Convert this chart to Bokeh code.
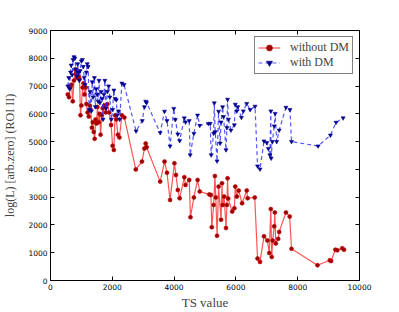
from bokeh.plotting import figure
from bokeh.models import LinearAxis, FixedTicker, Range1d
from bokeh.embed import file_html
from bokeh.resources import INLINE

# without DM (TS value, log L)
ts_without = [560, 600, 640, 680, 720, 760, 800, 830, 860, 880, 910, 940, 970, 1000, 1040, 1070,
              1100, 1140, 1160, 1200, 1240, 1270, 1300, 1340, 1370, 1400, 1430, 1460, 1490, 1520,
              1560, 1590, 1620, 1660, 1690, 1740, 1790, 1840, 1900, 1960, 2010, 2050, 2090, 2130,
              2180, 2230, 2310, 2390, 2760, 2960, 3040, 3080, 3110, 3550, 3690, 3770, 3870, 4010,
              4060, 4120, 4180, 4330, 4370, 4490, 4530, 4640, 4760, 4830, 5140, 5190, 5220, 5280,
              5320, 5350, 5390, 5440, 5520, 5550, 5570, 5620, 5680, 5710, 5730, 5750, 5880, 5950,
              5980, 6030, 6090, 6200, 6350, 6380, 6610, 6700, 6780, 6910, 7020, 7080, 7130, 7160,
              7190, 7240, 7260, 7290, 7370, 7400, 7620, 7740, 7800, 8640, 9040, 9080, 9220, 9280,
              9440, 9500]
logl_without = [6700, 6600, 6950, 7050, 6450, 7200, 7600, 7450, 7300, 7500, 7350, 7250, 5950, 6300,
                6950, 7100, 6700, 6950, 6350, 6050, 5900, 6300, 6150, 5500, 5700, 5350, 5100, 5800,
                5650, 6250, 5700, 6000, 5250, 5950, 6200, 6300, 6050, 6350, 6050, 5600, 4850, 4700,
                5950, 5800, 5250, 5150, 5950, 5870, 4000, 4280, 4750, 4930, 4800, 3560, 4280, 3880,
                2900, 4220, 3800, 3260, 2960, 3720, 3440, 3620, 2280, 2990, 3620, 3200, 3100, 3080,
                1920, 2720, 3760, 2990, 1610, 3380, 2190, 3500, 2720, 3020, 1890, 2720, 3680, 2950,
                2480, 2600, 3380, 3020, 3240, 2780, 3240, 2960, 2990, 790, 670, 1590, 1440, 990,
                2570, 850, 1440, 1950, 2450, 1330, 1500, 1750, 2450, 2300, 1140, 550, 730, 700,
                1110, 1090, 1160, 1110]

# with DM (TS value, log L)
ts_with = [560, 590, 620, 650, 670, 700, 730, 760, 790, 820, 850, 880, 900, 930, 960, 1000, 1030,
           1060, 1090, 1120, 1160, 1190, 1220, 1250, 1280, 1320, 1350, 1380, 1420, 1450, 1480, 1510,
           1540, 1570, 1600, 1640, 1670, 1700, 1730, 1760, 1800, 1840, 1880, 1920, 1970, 2010, 2050,
           2090, 2130, 2160, 2200, 2240, 2310, 2380, 2770, 2970, 3040, 3080, 3110, 3550, 3690, 3770,
           3870, 3990, 4040, 4120, 4180, 4330, 4370, 4490, 4520, 4640, 4760, 4830, 5110, 5170, 5200,
           5280, 5300, 5330, 5390, 5440, 5490, 5520, 5570, 5600, 5680, 5710, 5730, 5760, 5840, 5950,
           5980, 6030, 6060, 6180, 6240, 6350, 6460, 6620, 6700, 6780, 6910, 7000, 7050, 7100, 7130,
           7140, 7180, 7240, 7270, 7320, 7400, 7620, 7750, 7800, 8660, 9060, 9240, 9470]
logl_with = [7000, 7300, 6900, 7500, 7750, 7400, 7950, 8050, 8000, 7600, 7350, 7800, 7500, 7200,
             7550, 7900, 7950, 7700, 7300, 7050, 7500, 7800, 7700, 6150, 6800, 6100, 7150, 6600,
             7300, 6250, 6900, 6700, 6450, 7200, 6400, 6800, 6550, 5800, 6700, 7200, 6200, 6800,
             7000, 6600, 5800, 6150, 6850, 6550, 6500, 5950, 6100, 5800, 7100, 7050, 5380, 5750,
             6250, 6450, 6400, 5320, 6090, 5750, 4840, 6190, 5790, 5270, 5030, 5850, 5700, 5750,
             4520, 5290, 5950, 5580, 5650, 5650, 4520, 5300, 6390, 5350, 4300, 6090, 4940, 5700,
             6250, 5900, 4700, 5500, 6520, 5800, 5410, 5600, 6340, 6100, 6250, 5870, 6100, 6370,
             6150, 6270, 4120, 4010, 5020, 4960, 4750, 4520, 6100, 4400, 5000, 5560, 6010, 5000,
             5410, 6230, 6150, 5000, 4840, 5230, 5690, 5850]

x_ticks = [0, 2000, 4000, 6000, 8000, 10000]
y_ticks = [0, 1000, 2000, 3000, 4000, 5000, 6000, 7000, 8000, 9000]

SERIF = "Liberation Serif"
SANS = "DejaVu Sans"

p = figure(width=399, height=312, output_backend="svg", toolbar_location=None,
           x_range=Range1d(0, 10000), y_range=Range1d(0, 9000),
           min_border_left=50, min_border_right=40, min_border_top=30, min_border_bottom=31)
p.grid.visible = False
p.outline_line_color = "black"
p.outline_line_width = 1
p.background_fill_color = "white"
p.border_fill_color = "white"

def style_axis(ax, labels=True, ticks=None):
    ax.major_tick_in = 4
    ax.major_tick_out = 0
    ax.minor_tick_line_color = None
    ax.axis_line_color = "black"
    ax.major_tick_line_color = "black"
    if labels:
        ax.major_label_text_font = SANS
        ax.major_label_text_font_size = "7.5px"
        ax.major_label_text_color = "black"
        ax.major_label_standoff = 3
    else:
        ax.major_label_overrides = {t: "" for t in ticks}
        ax.major_label_standoff = 0

p.xaxis.ticker = FixedTicker(ticks=x_ticks)
p.yaxis.ticker = FixedTicker(ticks=y_ticks)
style_axis(p.xaxis[0])
style_axis(p.yaxis[0])
p.xaxis.axis_label = "TS value"
p.yaxis.axis_label = "log(L) [arb.zero] (ROI II)"
p.xaxis.axis_label_text_font = SERIF
p.yaxis.axis_label_text_font = SERIF
p.xaxis.axis_label_text_font_style = "normal"
p.yaxis.axis_label_text_font_style = "normal"
p.xaxis.axis_label_text_font_size = "13px"
p.yaxis.axis_label_text_font_size = "12px"
p.xaxis.axis_label_standoff = 2
p.yaxis.axis_label_standoff = 8

top = LinearAxis(ticker=FixedTicker(ticks=x_ticks))
style_axis(top, labels=False, ticks=x_ticks)
p.add_layout(top, "above")
right = LinearAxis(ticker=FixedTicker(ticks=y_ticks))
style_axis(right, labels=False, ticks=y_ticks)
p.add_layout(right, "right")

p.line(ts_without, logl_without, line_color="#ff2a2a", line_width=1.2, line_alpha=0.8,
       legend_label="without DM")
p.scatter(ts_without, logl_without, marker="circle", size=4, fill_color="#990000",
          line_color="#cc0000", line_width=0.6, legend_label="without DM")

p.line(ts_with, logl_with, line_color="#2a2aff", line_width=1.2, line_alpha=0.8,
       line_dash="4 3", legend_label="with DM")
p.scatter(ts_with, logl_with, marker="inverted_triangle", size=4, fill_color="#000080",
          line_color="#0000a0", line_width=0.6, legend_label="with DM")

p.legend.location = "top_right"
p.legend.label_text_font = SERIF
p.legend.label_text_font_size = "12px"
p.legend.border_line_color = "black"
p.legend.border_line_width = 1
p.legend.background_fill_alpha = 1
p.legend.margin = 6
p.legend.padding = 3
p.legend.spacing = 0
p.legend.glyph_width = 22
p.legend.glyph_height = 15
p.legend.label_height = 15
p.legend.label_standoff = 10

open("out.html", "w").write(file_html(p, INLINE))
